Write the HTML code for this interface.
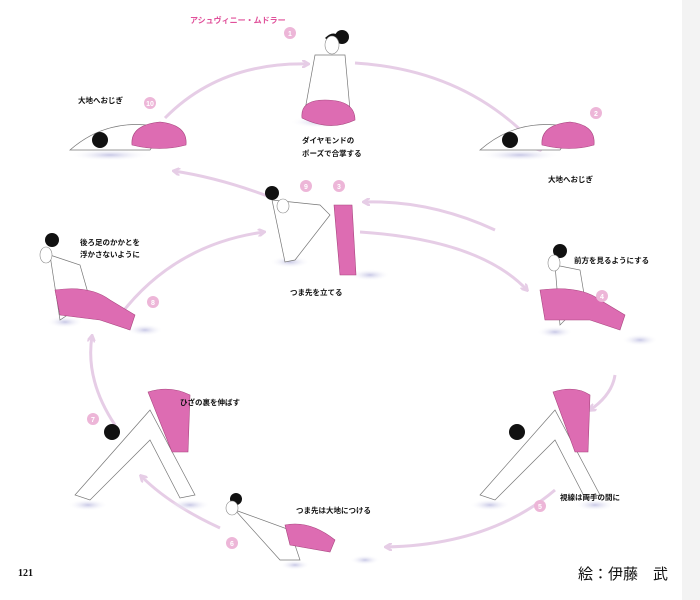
<!DOCTYPE html>
<html><head><meta charset="utf-8"><style>
html,body{margin:0;padding:0;background:#fff;}
svg{display:block;}
text{font-family:"Liberation Sans","Noto Sans CJK JP",sans-serif;}
.l{font-size:7.5px;font-weight:bold;fill:#111;}
.n{font-size:7px;font-weight:bold;fill:#fff;text-anchor:middle;}
</style></head><body>
<svg width="700" height="600" viewBox="0 0 700 600">
<defs>
<marker id="a" markerWidth="8" markerHeight="8" refX="6" refY="4" orient="auto" markerUnits="userSpaceOnUse">
<path d="M0,0 L7,4 L0,8" fill="none" stroke="#e6cde6" stroke-width="2.5"/></marker>
<radialGradient id="sh"><stop offset="0" stop-color="#c8c8e6"/><stop offset="1" stop-color="#fff" stop-opacity="0"/></radialGradient>
</defs>
<rect x="0" y="0" width="700" height="600" fill="#fff"/>
<rect x="682" y="0" width="18" height="600" fill="#f3f3f3"/>
<g fill="none" stroke="#e6cde6" stroke-width="3" marker-end="url(#a)">
<path d="M165,118 Q220,62 308,64"/>
<path d="M355,63 Q470,70 540,150"/>
<path d="M495,230 Q430,200 364,202"/>
<path d="M270,197 Q220,178 174,171"/>
<path d="M360,232 Q480,240 527,290"/>
<path d="M615,375 Q612,395 590,410"/>
<path d="M555,490 Q490,545 386,547"/>
<path d="M220,528 Q170,505 141,476"/>
<path d="M115,425 Q85,380 92,336"/>
<path d="M115,322 Q170,245 264,232"/>
</g>
<!-- shadows -->
<g fill="url(#sh)">
<ellipse cx="320" cy="122" rx="30" ry="6"/>
<ellipse cx="110" cy="155" rx="40" ry="6"/><ellipse cx="520" cy="155" rx="40" ry="6"/>
<ellipse cx="290" cy="262" rx="20" ry="6"/><ellipse cx="370" cy="275" rx="20" ry="6"/>
<ellipse cx="65" cy="322" rx="18" ry="6"/><ellipse cx="145" cy="330" rx="18" ry="6"/>
<ellipse cx="555" cy="332" rx="18" ry="6"/><ellipse cx="640" cy="340" rx="18" ry="6"/>
<ellipse cx="88" cy="505" rx="20" ry="6"/><ellipse cx="190" cy="505" rx="20" ry="6"/>
<ellipse cx="490" cy="505" rx="20" ry="6"/><ellipse cx="595" cy="505" rx="20" ry="6"/>
<ellipse cx="295" cy="565" rx="15" ry="5"/><ellipse cx="365" cy="560" rx="15" ry="5"/>
</g>
<!-- figures -->
<g stroke="#777" stroke-width="0.7" fill="#fff">
<path d="M315,55 L345,55 L350,110 L305,110 Z"/>
<path d="M70,150 Q110,115 165,128 L150,150 Z"/>
<path d="M480,150 Q520,115 575,128 L560,150 Z"/>
<path d="M272,200 L320,205 L330,215 L295,260 L285,262 Z"/>
<path d="M50,255 L80,265 L90,300 L60,320 Z"/>
<path d="M555,265 L580,270 L585,300 L560,325 Z"/>
<path d="M75,495 L150,410 L195,495 L180,498 L150,440 L90,500 Z"/>
<path d="M480,495 L555,410 L600,495 L585,498 L555,440 L495,500 Z"/>
<path d="M235,510 L290,530 L300,560 L280,560 Z"/>
</g>
<g fill="#dd6cb2" stroke="#a8467f" stroke-width="0.6">
<path d="M302,118 Q300,100 325,100 Q355,100 355,120 Q330,132 302,118Z"/>
<path d="M132,145 Q130,125 160,122 Q188,125 186,145 Q160,152 132,145Z"/>
<path d="M542,145 Q540,125 570,122 Q596,125 594,145 Q570,152 542,145Z"/>
<path d="M334,205 L352,205 L356,275 L340,275 Z"/>
<path d="M55,290 Q90,285 110,300 L135,315 L130,330 L100,320 L60,315 Z"/>
<path d="M540,290 Q580,285 600,300 L625,315 L620,330 L590,320 L545,320 Z"/>
<path d="M148,392 Q170,385 190,395 L188,452 L172,452 Z"/>
<path d="M553,392 Q575,385 590,395 L588,452 L575,452 Z"/>
<path d="M285,525 Q310,520 335,540 L330,552 L290,545 Z"/>
</g>
<g fill="#111">
<circle cx="342" cy="37" r="7"/><path d="M325,38 Q335,28 342,40 L330,42Z"/>
<circle cx="100" cy="140" r="8"/><circle cx="510" cy="140" r="8"/>
<circle cx="272" cy="193" r="7"/><circle cx="52" cy="240" r="7"/>
<circle cx="560" cy="251" r="7"/><circle cx="112" cy="432" r="8"/>
<circle cx="517" cy="432" r="8"/><circle cx="236" cy="499" r="6"/>
</g>
<g fill="#fff" stroke="#888" stroke-width="0.6">
<ellipse cx="332" cy="45" rx="7" ry="9"/><ellipse cx="283" cy="206" rx="6" ry="7"/>
<ellipse cx="46" cy="255" rx="6" ry="8"/><ellipse cx="554" cy="263" rx="6" ry="8"/>
<ellipse cx="232" cy="508" rx="6" ry="7"/>
</g>
<!-- number circles -->
<g fill="#edb6d8">
<circle cx="290" cy="33" r="6"/><circle cx="150" cy="103" r="6"/><circle cx="596" cy="113" r="6"/>
<circle cx="306" cy="186" r="6"/><circle cx="339" cy="186" r="6"/><circle cx="153" cy="302" r="6"/>
<circle cx="602" cy="296" r="6"/><circle cx="93" cy="419" r="6"/><circle cx="540" cy="506" r="6"/>
<circle cx="232" cy="543" r="6"/>
</g>
<g class="n">
<text x="290" y="36">1</text><text x="150" y="106">10</text><text x="596" y="116">2</text>
<text x="306" y="189">9</text><text x="339" y="189">3</text><text x="153" y="305">8</text>
<text x="602" y="299">4</text><text x="93" y="422">7</text><text x="540" y="509">5</text>
<text x="232" y="546">6</text>
</g>
<text x="190" y="23" style="font-size:8px;font-weight:bold;fill:#e0509a">アシュヴィニー・ムドラー</text>
<text class="l" x="78" y="103">大地へおじぎ</text>
<text class="l" x="302" y="143">ダイヤモンドの</text>
<text class="l" x="302" y="156">ポーズで合掌する</text>
<text class="l" x="548" y="182">大地へおじぎ</text>
<text class="l" x="80" y="245">後ろ足のかかとを</text>
<text class="l" x="80" y="257">浮かさないように</text>
<text class="l" x="574" y="263">前方を見るようにする</text>
<text class="l" x="290" y="295">つま先を立てる</text>
<text class="l" x="180" y="405">ひざの裏を伸ばす</text>
<text class="l" x="560" y="500">視線は両手の間に</text>
<text class="l" x="296" y="513">つま先は大地につける</text>
<text x="18" y="576" style="font-family:'Liberation Serif',serif;font-size:10px;font-weight:bold;fill:#111">121</text>
<text x="578" y="579" style="font-size:15px;fill:#111">絵：伊藤　武</text>
</svg>
</body></html>
